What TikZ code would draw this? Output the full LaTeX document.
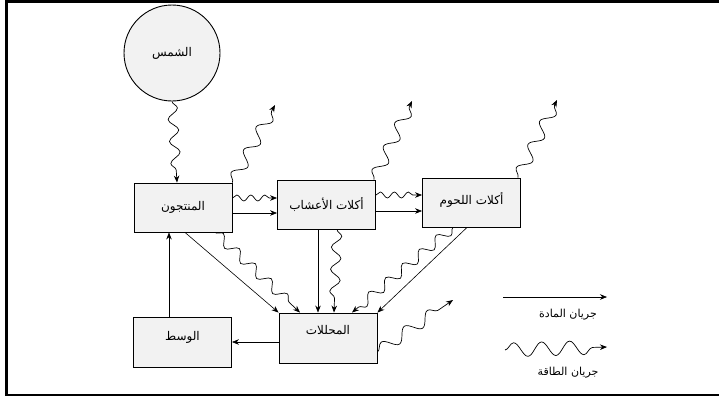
\documentclass[tikz,border=0pt]{standalone}
\usepackage{fontspec}
\usetikzlibrary{arrows.meta,decorations.pathmorphing}
\TeXXeTstate=1
\newfontfamily\arabicfont[Script=Arabic]{DejaVu Sans}
\newcommand{\arab}[1]{{\arabicfont\beginR #1\endR}}

\begin{document}
\begin{tikzpicture}[x=1pt,y=-1pt,font=\fontsize{12}{14}\selectfont,>={Stealth[length=7pt,width=5.5pt]},
  box/.style={draw,line width=0.9pt,fill=gray!10,minimum width=98pt,minimum height=49pt,inner sep=0pt},
  matter/.style={->,line width=0.6pt},
  energy/.style={->,line width=0.7pt,decorate,decoration={snake,amplitude=3.5pt,segment length=18pt,post length=5pt}}]
\useasboundingbox (0,0) rectangle (719,399);
% frame
\draw[line width=2.2pt] (720,1.5) -- (6.5,1.5) -- (6.5,395) -- (720,395);

% compartments
\node[draw,line width=0.9pt,fill=gray!10,circle,minimum size=96pt,inner sep=0pt] (sun) at (172,53) {\arab{الشمس}};
\node[box] (prod) at (183,207.5) {\arab{المنتجون}};
\node[box] (herb) at (326.5,204.5) {\arab{أكلات الأعشاب}};
\node[box,text depth=8pt] (carn) at (471.5,202.5) {\arab{أكلات اللحوم}};
\node[box,minimum height=50pt,text depth=16pt] (decomp) at (328,338) {\arab{المحللات}};
\node[box,minimum height=50pt,text depth=12pt] (medium) at (182.5,342) {\arab{الوسط}};

% free ends of the heat losses
\coordinate (lossP) at (275,105);
\coordinate (lossH) at (412,101);
\coordinate (lossC) at (557,100);
\coordinate (lossD) at (453,300);

% energy
\draw[energy,decoration={amplitude=5pt,segment length=22pt}] (sun.south) -- ([xshift=-6pt]prod.north);
\draw[energy,decoration={amplitude=6pt,segment length=26pt}] (prod.north east) -- (lossP);
\draw[energy,decoration={amplitude=6pt,segment length=26pt}] ([xshift=-2pt]herb.north east) -- (lossH);
\draw[energy,decoration={amplitude=6pt,segment length=26pt}] ([xshift=-3pt]carn.north east) -- (lossC);
\draw[energy,decoration={amplitude=6pt,segment length=28pt}] ([yshift=-14pt]decomp.east) -- (lossD);
\draw[energy,decoration={amplitude=3pt,segment length=14pt}] ([yshift=9.5pt]prod.east) -- ([yshift=6.5pt]herb.west);
\draw[energy,decoration={amplitude=3pt,segment length=14pt}] ([yshift=9.5pt]herb.east) -- ([yshift=7.5pt]carn.west);
\draw[energy,decoration={amplitude=5pt,segment length=22pt}] ([xshift=32pt]prod.south) -- ([xshift=-28pt]decomp.north);
\draw[energy,decoration={amplitude=5pt,segment length=22pt}] ([xshift=10.5pt]herb.south) -- ([xshift=6pt]decomp.north);
\draw[energy,decoration={amplitude=5pt,segment length=22pt}] ([xshift=-18.5pt]carn.south) -- ([xshift=24pt]decomp.north);

% matter
\draw[matter] ([yshift=-5.5pt]prod.east) -- ([yshift=-8.5pt]herb.west);
\draw[matter] ([yshift=-6.5pt]herb.east) -- ([yshift=-8.5pt]carn.west);
\draw[matter] ([xshift=2pt]prod.south) -- (decomp.north west);
\draw[matter] ([xshift=-8.5pt]herb.south) -- ([xshift=-10pt]decomp.north);
\draw[matter] ([xshift=-4.5pt]carn.south) -- (decomp.north east);
\draw[matter] ([yshift=-4pt]decomp.west) -- (medium.east);
\draw[matter] ([xshift=-13.5pt]medium.north) -- ([xshift=-14pt]prod.south);

% legend
\coordinate (legM1) at (503,297);
\coordinate (legM2) at (607,297);
\coordinate (legE1) at (505,350);
\coordinate (legE2) at (607,347);
\draw[matter] (legM1) -- (legM2);
\node[font=\fontsize{11}{13}\selectfont] (legMtxt) at (568,315) {\arab{جريان المادة}};
\draw[energy,decoration={amplitude=7pt,segment length=28pt,post length=8pt}] (legE1) -- (legE2);
\node[font=\fontsize{11}{13}\selectfont] (legEtxt) at (568,373) {\arab{جريان الطاقة}};
\end{tikzpicture}
\end{document}
